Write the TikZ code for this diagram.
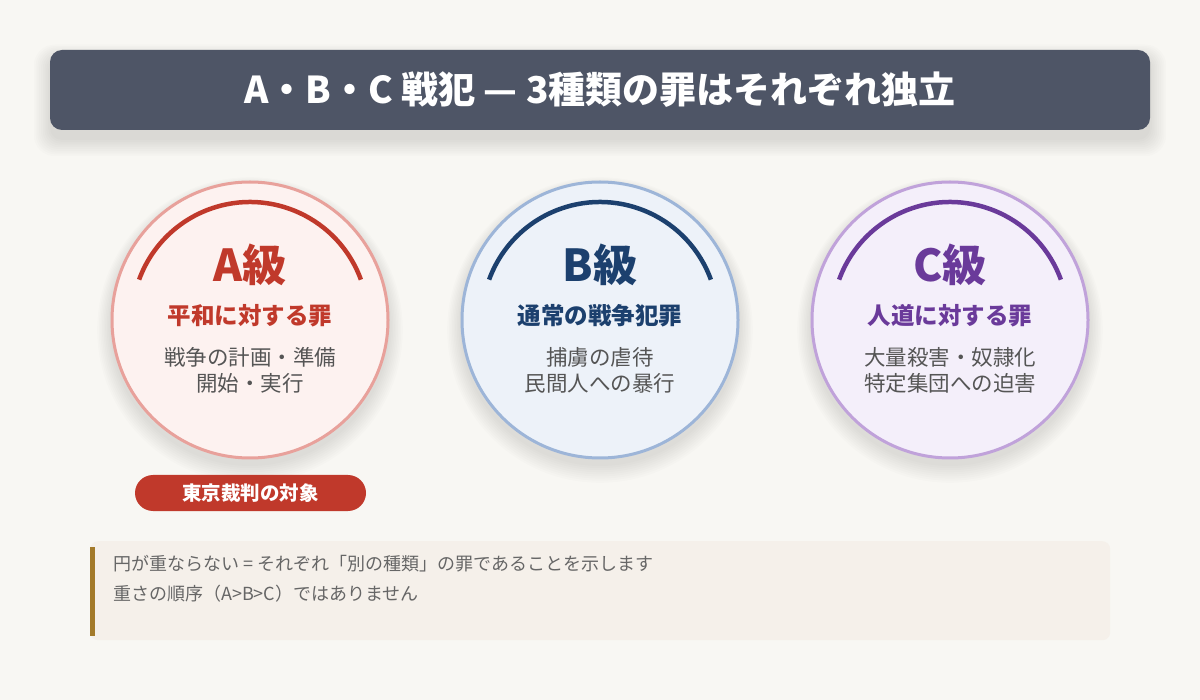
\documentclass[tikz,border=0pt]{standalone}
\usepackage{fontspec}
\setmainfont{Noto Sans CJK JP}
\usetikzlibrary{calc}
\definecolor{bg}{HTML}{F8F7F3}
\definecolor{titlebg}{HTML}{4E5566}
\definecolor{Amain}{HTML}{C0392B}
\definecolor{Afill}{HTML}{FDF2F0}
\definecolor{Aborder}{HTML}{E8A19B}
\definecolor{Bmain}{HTML}{1C406E}
\definecolor{Bfill}{HTML}{EDF2F9}
\definecolor{Bborder}{HTML}{9DB5D8}
\definecolor{Cmain}{HTML}{6A3A9A}
\definecolor{Cfill}{HTML}{F4EFFA}
\definecolor{Cborder}{HTML}{C0A2DA}
\definecolor{desc}{HTML}{555555}
\definecolor{notefill}{HTML}{F5F0EA}
\definecolor{notebar}{HTML}{A37A2A}
\definecolor{notetext}{HTML}{666666}
\tikzset{
  ring/.style={circle, line width=3pt, minimum size=276pt, inner sep=0pt},
  grade/.style={font=\fontsize{44}{50}\selectfont\bfseries},
  crime/.style={font=\fontsize{23.5}{28}\selectfont\bfseries},
  detail/.style={font=\fontsize{21.5}{26}\selectfont, text=desc, align=center},
  topbar/.style={line width=4.5pt},
  notestyle/.style={font=\fontsize{18}{20}\selectfont, text=notetext, anchor=west, inner sep=0pt}
}
\begin{document}
\begin{tikzpicture}[x=1pt,y=-1pt]
\fill[bg] (0,0) rectangle (1200,700);
\useasboundingbox (0,0) rectangle (1200,700);
% title shadow
\foreach \i in {0,...,9} {
  \fill[black,opacity=0.012,rounded corners={12+\i}] ({50-\i*1.8},{58-\i*1.5}) rectangle ({1150+\i*1.8},{140+\i*1.8});
}
\node[fill=titlebg, rounded corners=12pt, minimum width=1100pt, minimum height=80pt, inner sep=0pt,
      text=white, font=\fontsize{37}{42}\selectfont\bfseries] (title) at (600,90) {A・B・C 戦犯 — 3種類の罪はそれぞれ独立};
% circle shadows
\foreach \cx in {250,600,950} {
  \foreach \i in {0,...,8} {
    \fill[black,opacity=0.01] ({\cx},{326+\i*0.5}) circle[radius={140pt+\i*1.6pt}];
  }
}
% circles
\node[ring, draw=Aborder, fill=Afill] (ca) at (250,320) {};
\node[ring, draw=Bborder, fill=Bfill] (cb) at (600,320) {};
\node[ring, draw=Cborder, fill=Cfill] (cc) at (950,320) {};
% arcs
\draw[topbar, Amain] ($(ca.center)+(20:118pt)$) arc[start angle=20, end angle=160, radius=118pt];
\draw[topbar, Bmain] ($(cb.center)+(20:118pt)$) arc[start angle=20, end angle=160, radius=118pt];
\draw[topbar, Cmain] ($(cc.center)+(20:118pt)$) arc[start angle=20, end angle=160, radius=118pt];
% texts A
\node[grade, text=Amain] (ga) at (250,265) {A級};
\node[crime, text=Amain] (sa) at (250,316) {平和に対する罪};
\node[detail] (da) at (250,370) {戦争の計画・準備\\開始・実行};
% texts B
\node[grade, text=Bmain] (gb) at (600,265) {B級};
\node[crime, text=Bmain] (sb) at (600,316) {通常の戦争犯罪};
\node[detail] (db) at (600,370) {捕虜の虐待\\民間人への暴行};
% texts C
\node[grade, text=Cmain] (gc) at (950,265) {C級};
\node[crime, text=Cmain] (sc) at (950,316) {人道に対する罪};
\node[detail] (dc) at (950,370) {大量殺害・奴隷化\\特定集団への迫害};
% badge
\node[fill=Amain, rounded corners=18pt, minimum width=231pt, minimum height=36pt, inner sep=0pt,
      text=white, font=\fontsize{19.5}{22}\selectfont\bfseries] (badge) at (250.5,493) {東京裁判の対象};
% note
\node[fill=notefill, rounded corners=8pt, minimum width=1020pt, minimum height=99pt, inner sep=0pt, anchor=north west] (note) at (90,541) {};
\fill[notebar] (90,547) rectangle (95,636);
\node[notestyle] (n1) at (113,564) {円が重ならない = それぞれ「別の種類」の罪であることを示します};
\node[notestyle] (n2) at (113,594) {重さの順序（A>B>C）ではありません};
\end{tikzpicture}
\end{document}
